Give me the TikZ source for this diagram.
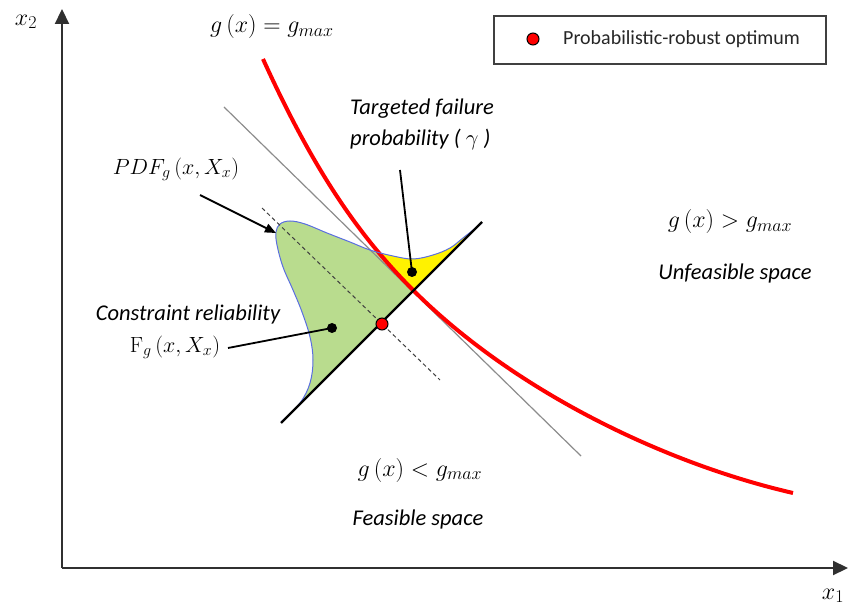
\RequirePackage{fix-cm}
\documentclass[tikz,border=0pt]{standalone}
\usepackage{fontspec}
\setsansfont{Carlito}
\usetikzlibrary{arrows.meta}
\DeclareMathSizes{22}{22}{16}{12}
\DeclareMathSizes{24}{24}{18}{13}
\definecolor{pdfgreen}{HTML}{B9DC8E}
\definecolor{pdfblue}{HTML}{5A6EE0}
\definecolor{axisgray}{HTML}{303030}
\tikzset{
  mathlbl/.style={font=\fontsize{22}{26}\selectfont, inner sep=0pt},
  gmathlbl/.style={font=\fontsize{24}{28}\selectfont, inner sep=0pt},
  itlbl/.style={font=\fontsize{22.5}{31}\selectfont\sffamily\itshape, inner sep=0pt},
  axisline/.style={line width=2.2pt, draw=axisgray, -{Triangle[length=15pt,width=14pt]}},
  redcurve/.style={line width=4pt, red},
  tangentline/.style={line width=1.2pt, draw=gray!90},
  leader/.style={line width=1.8pt, black},
  blackdot/.style={circle, fill=black, minimum size=10pt, inner sep=0pt},
  optdot/.style={circle, fill=red, draw=black, line width=1pt, minimum size=12pt, inner sep=0pt},
}
\newcommand{\redpath}{(263,59) .. controls (313,169) and (358,235) .. (413,290) .. controls (513,390) and (663,463) .. (793,493)}
\newcommand{\pdfpath}{plot[smooth, tension=0.6] coordinates {(281,422) (300,403) (310,383) (313,360) (310,337) (302,312) (293,290) (283,267) (277,245) (276,232) (280,224) (290,221) (305,224) (327,233) (350,242) (370,250) (393,256) (413,259) (433,255) (450,248) (463,238) (482,223)}}
\begin{document}
\begin{tikzpicture}[x=1pt, y=-1pt]
\useasboundingbox (0,0) rectangle (854,609);
% PDF fills
\fill[pdfgreen] \pdfpath -- cycle;
\begin{scope}
  \clip \pdfpath -- cycle;
  \fill[yellow] \redpath -- (860,493) -- (860,-5) -- (263,-5) -- cycle;
\end{scope}
% tangent line
\coordinate (tg1) at (224,107);
\coordinate (tg2) at (581,456);
\draw[tangentline] (tg1) -- (tg2);
% red limit curve
\draw[redcurve] \redpath;
% PDF outline
\draw[pdfblue, line width=1pt] \pdfpath;
% dashed mean line
\coordinate (ds1) at (262,208);
\coordinate (ds2) at (440,380);
\draw[line width=1pt, draw=black!75, dash pattern=on 4pt off 3pt] (ds1) -- (ds2);
% base line
\coordinate (b1) at (281,423);
\coordinate (b2) at (482,222);
\draw[line width=2.4pt, black] (b1) -- (b2);
% axes
\coordinate (O) at (62,568);
\coordinate (ytop) at (62,9);
\coordinate (xend) at (848,568);
\draw[axisline] (O) -- (ytop);
\draw[axisline] (O) -- (xend);
\node[font=\fontsize{24}{28}\selectfont, inner sep=0pt] (x2) at (26,22) {$x_2$};
\node[font=\fontsize{24}{28}\selectfont, inner sep=0pt] (x1) at (833,596) {$x_1$};
% labels
\node[gmathlbl] (geq) at (272,27) {$g\,(x) = g_{max}$};
\node[gmathlbl] (ggt) at (730,222) {$g\,(x) > g_{max}$};
\node[itlbl] (unf) at (735,274) {Unfeasible space};
\node[gmathlbl] (glt) at (420,470) {$g\,(x) < g_{max}$};
\node[itlbl] (feas) at (418,519) {Feasible space};
\node[mathlbl] (pdf) at (176,169) {$PDF_g\,(x, X_x)$};
\node[itlbl, align=left, anchor=north west] (tfp) at (350,99) {Targeted failure\\probability ( $\gamma$ )};
\node[itlbl] (crel) at (188,315) {Constraint reliability};
\node[mathlbl] (frel) at (175,347) {$\mathrm{F}_g\,(x, X_x)$};
% dots and leaders
\node[blackdot] (d1) at (412,272) {};
\node[blackdot] (d2) at (332,328) {};
\node[optdot] (opt) at (382,324) {};
\coordinate (l1) at (400,170);
\draw[leader] (l1) -- (d1.center);
\coordinate (l2) at (228,348);
\draw[leader] (l2) -- (d2.center);
\coordinate (a1) at (200,195);
\coordinate (a2) at (276,233);
\draw[leader, line width=2pt, -{Triangle[length=11pt,width=9pt]}] (a1) -- (a2);
% legend
\node[draw=black!75, line width=1.3pt, minimum width=332pt, minimum height=48pt, inner sep=0pt] (legend) at (660,40) {};
\node[optdot] (legdot) at (533,39) {};
\node[font=\fontsize{20}{24}\selectfont\sffamily, anchor=west, inner sep=0pt, text=black!85] (legtxt) at (563,39) {Probabilistic-robust optimum};
\end{tikzpicture}
\end{document}
